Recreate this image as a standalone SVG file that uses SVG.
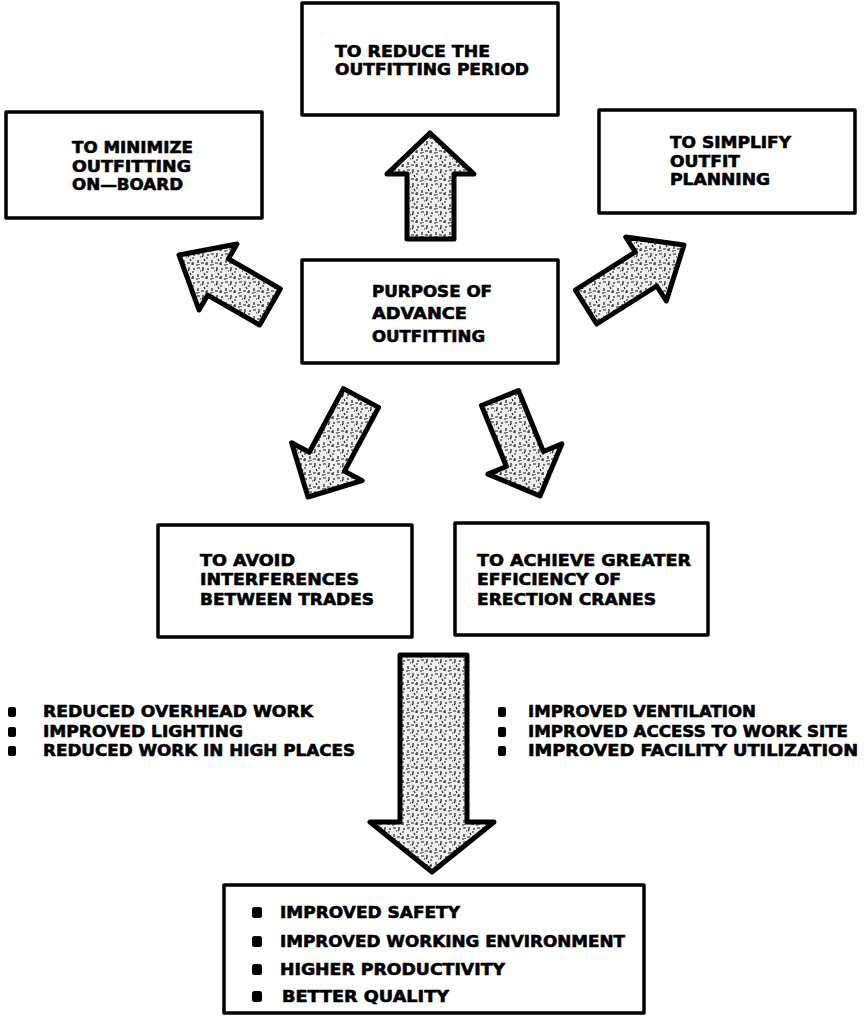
<svg xmlns="http://www.w3.org/2000/svg" width="864" height="1019" viewBox="0 0 864 1019">
<style>
.box{fill:#fff;stroke:#000;stroke-width:3.5;stroke-linejoin:round}
.t{font-family:"DejaVu Sans","Liberation Sans",sans-serif;font-weight:bold;font-size:16px;fill:#000;stroke:#000;stroke-width:0.6;stroke-linejoin:round}
.arr{fill:url(#speck);stroke:#000;stroke-width:5;stroke-linejoin:round}
.bul{fill:#000}
</style>
<defs>
<pattern id="speck" width="14" height="14" patternUnits="userSpaceOnUse">
<rect width="14" height="14" fill="#eeeeee"/>
<path d="M1 2h3M7 1v3M10 6h2M2 8v3M5 11h3M11 10v3M8 7l1 2M4 5h1M12 2v2M0 13h2M6 4l1 1M3 12v1M9 12h2" stroke="#1a1a1a" stroke-width="1.2" fill="none"/>
</pattern>
</defs>
<g id="connectors">
<polygon class="arr" points="430,133 474,174 454,174 454,239 407,239 407,174 387,174"/>
<polygon class="arr" points="179,255 237,244 228.4,258.8 280.4,288.8 259.6,325 207.6,295.2 199,310"/>
<polygon class="arr" points="684,245 666.3,301 656.7,286 596.7,324 575.3,290 635.3,252 625.7,237"/>
<polygon class="arr" points="308,497 291.6,442.8 309.3,452.3 343.4,388.6 378.6,407.4 344.5,471.1 362.2,480.6"/>
<polygon class="arr" points="540,496 487.9,474.1 506.4,466.5 481.5,405.5 518.5,390.5 543.4,451.5 561.9,443.9"/>
<polygon class="arr" points="432,872 370,822 400,822 400,655 467,655 467,822 494,822"/>
</g>
<g id="n-top">
<rect class="box" x="302" y="3" width="256" height="112"/>
<text class="t" x="335" y="57" textLength="155" lengthAdjust="spacingAndGlyphs">TO REDUCE THE</text>
<text class="t" x="335" y="75" textLength="194" lengthAdjust="spacingAndGlyphs">OUTFITTING PERIOD</text>
</g>
<g id="n-left">
<rect class="box" x="6" y="112" width="256" height="106"/>
<text class="t" x="72" y="153" textLength="121" lengthAdjust="spacingAndGlyphs">TO MINIMIZE</text>
<text class="t" x="72" y="172" textLength="119" lengthAdjust="spacingAndGlyphs">OUTFITTING</text>
<text class="t" x="72" y="190" textLength="111" lengthAdjust="spacingAndGlyphs">ON—BOARD</text>
</g>
<g id="n-right">
<rect class="box" x="599" y="110" width="256" height="103"/>
<text class="t" x="670" y="148" textLength="121" lengthAdjust="spacingAndGlyphs">TO SIMPLIFY</text>
<text class="t" x="670" y="167" textLength="70" lengthAdjust="spacingAndGlyphs">OUTFIT</text>
<text class="t" x="670" y="185" textLength="100" lengthAdjust="spacingAndGlyphs">PLANNING</text>
</g>
<g id="n-center">
<rect class="box" x="302" y="260" width="256" height="103"/>
<text class="t" x="372" y="297" textLength="120" lengthAdjust="spacingAndGlyphs">PURPOSE OF</text>
<text class="t" x="372" y="319" textLength="95" lengthAdjust="spacingAndGlyphs">ADVANCE</text>
<text class="t" x="372" y="342" textLength="113" lengthAdjust="spacingAndGlyphs">OUTFITTING</text>
</g>
<g id="n-avoid">
<rect class="box" x="158" y="525" width="254" height="112"/>
<text class="t" x="200" y="566" textLength="95" lengthAdjust="spacingAndGlyphs">TO AVOID</text>
<text class="t" x="200" y="585" textLength="159" lengthAdjust="spacingAndGlyphs">INTERFERENCES</text>
<text class="t" x="200" y="605" textLength="174" lengthAdjust="spacingAndGlyphs">BETWEEN TRADES</text>
</g>
<g id="n-achieve">
<rect class="box" x="455" y="523" width="253" height="112"/>
<text class="t" x="477" y="566" textLength="214" lengthAdjust="spacingAndGlyphs">TO ACHIEVE GREATER</text>
<text class="t" x="477" y="585" textLength="144" lengthAdjust="spacingAndGlyphs">EFFICIENCY OF</text>
<text class="t" x="477" y="605" textLength="179" lengthAdjust="spacingAndGlyphs">ERECTION CRANES</text>
</g>
<g id="list-left">
<rect class="bul" x="8" y="707" width="8" height="10" rx="2"/>
<rect class="bul" x="8" y="727" width="8" height="10" rx="2"/>
<rect class="bul" x="8" y="746" width="8" height="10" rx="2"/>
<text class="t" x="43" y="717" textLength="270" lengthAdjust="spacingAndGlyphs">REDUCED OVERHEAD WORK</text>
<text class="t" x="43" y="737" textLength="200" lengthAdjust="spacingAndGlyphs">IMPROVED LIGHTING</text>
<text class="t" x="43" y="756" textLength="312" lengthAdjust="spacingAndGlyphs">REDUCED WORK  IN HIGH PLACES</text>
</g>
<g id="list-right">
<rect class="bul" x="498" y="707" width="8" height="10" rx="2"/>
<rect class="bul" x="498" y="727" width="8" height="10" rx="2"/>
<rect class="bul" x="498" y="746" width="8" height="10" rx="2"/>
<text class="t" x="528" y="717" textLength="228" lengthAdjust="spacingAndGlyphs">IMPROVED VENTILATION</text>
<text class="t" x="528" y="737" textLength="320" lengthAdjust="spacingAndGlyphs">IMPROVED ACCESS TO WORK SITE</text>
<text class="t" x="528" y="756" textLength="330" lengthAdjust="spacingAndGlyphs">IMPROVED FACILITY UTILIZATION</text>
</g>
<g id="n-result">
<rect class="box" x="224" y="885" width="420" height="128"/>
<rect class="bul" x="252" y="907" width="10" height="11" rx="2.5"/>
<rect class="bul" x="252" y="936" width="10" height="11" rx="2.5"/>
<rect class="bul" x="252" y="964" width="10" height="11" rx="2.5"/>
<rect class="bul" x="252" y="991" width="10" height="11" rx="2.5"/>
<text class="t" x="280" y="918" textLength="180" lengthAdjust="spacingAndGlyphs">IMPROVED SAFETY</text>
<text class="t" x="280" y="947" textLength="345" lengthAdjust="spacingAndGlyphs">IMPROVED WORKING ENVIRONMENT</text>
<text class="t" x="280" y="975" textLength="225" lengthAdjust="spacingAndGlyphs">HIGHER PRODUCTIVITY</text>
<text class="t" x="282" y="1002" textLength="167" lengthAdjust="spacingAndGlyphs">BETTER QUALITY</text>
</g>
</svg>
